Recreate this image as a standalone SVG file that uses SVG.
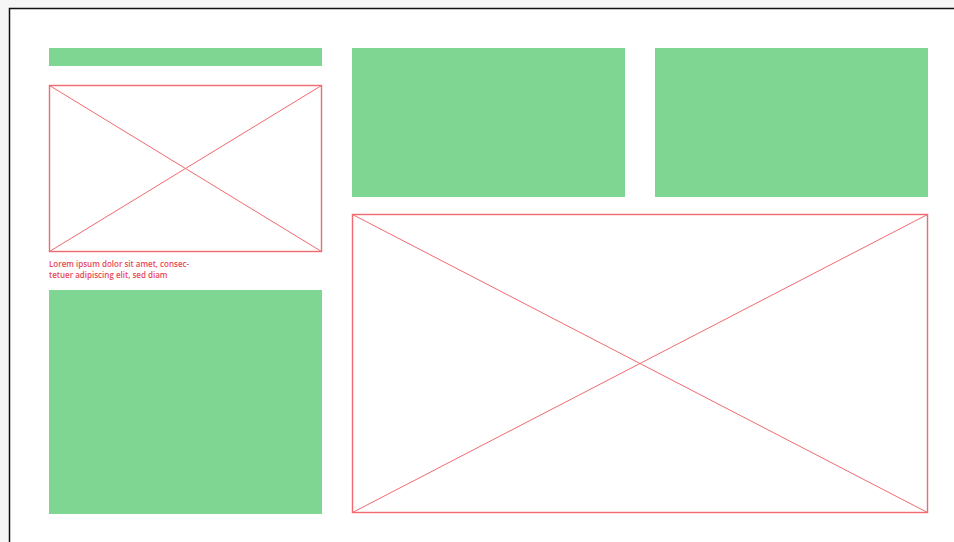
<svg xmlns="http://www.w3.org/2000/svg" width="954" height="542" viewBox="0 0 954 542">
<style>
.g{fill:#7fd592}
.ph{fill:#fff;stroke:#f06a6f;stroke-width:1.4}
.x{stroke:#f06a6f;stroke-width:1}
.t{font-family:"Open Sans","Liberation Sans",sans-serif;font-size:8px;font-weight:600;fill:#e8475a}
</style>
<rect width="954" height="542" fill="#f6f6f6"/>
<rect x="9.5" y="8.5" width="945" height="534" fill="#fff"/>
<path d="M9.5 542V8.5H954" fill="none" stroke="#111" stroke-width="1.5"/>
<g id="header-bar"><rect class="g" x="49" y="48" width="273" height="18"/></g>
<g id="image-small">
<rect class="ph" x="49.5" y="85.5" width="272" height="166"/>
<line class="x" x1="49.5" y1="85.5" x2="321.5" y2="251.5"/>
<line class="x" x1="321.5" y1="85.5" x2="49.5" y2="251.5"/>
</g>
<g id="caption">
<text class="t" x="49" y="267">Lorem ipsum dolor sit amet, consec-</text>
<text class="t" x="49" y="277.5">tetuer adipiscing elit, sed diam</text>
</g>
<g id="block-left"><rect class="g" x="49" y="290" width="273" height="224"/></g>
<g id="block-mid"><rect class="g" x="352" y="48" width="273" height="149"/></g>
<g id="block-right"><rect class="g" x="655" y="48" width="273" height="149"/></g>
<g id="image-large">
<rect class="ph" x="352.5" y="214.5" width="575" height="298"/>
<line class="x" x1="352.5" y1="214.5" x2="927.5" y2="512.5"/>
<line class="x" x1="927.5" y1="214.5" x2="352.5" y2="512.5"/>
</g>
<g id="connectors"></g>
</svg>
